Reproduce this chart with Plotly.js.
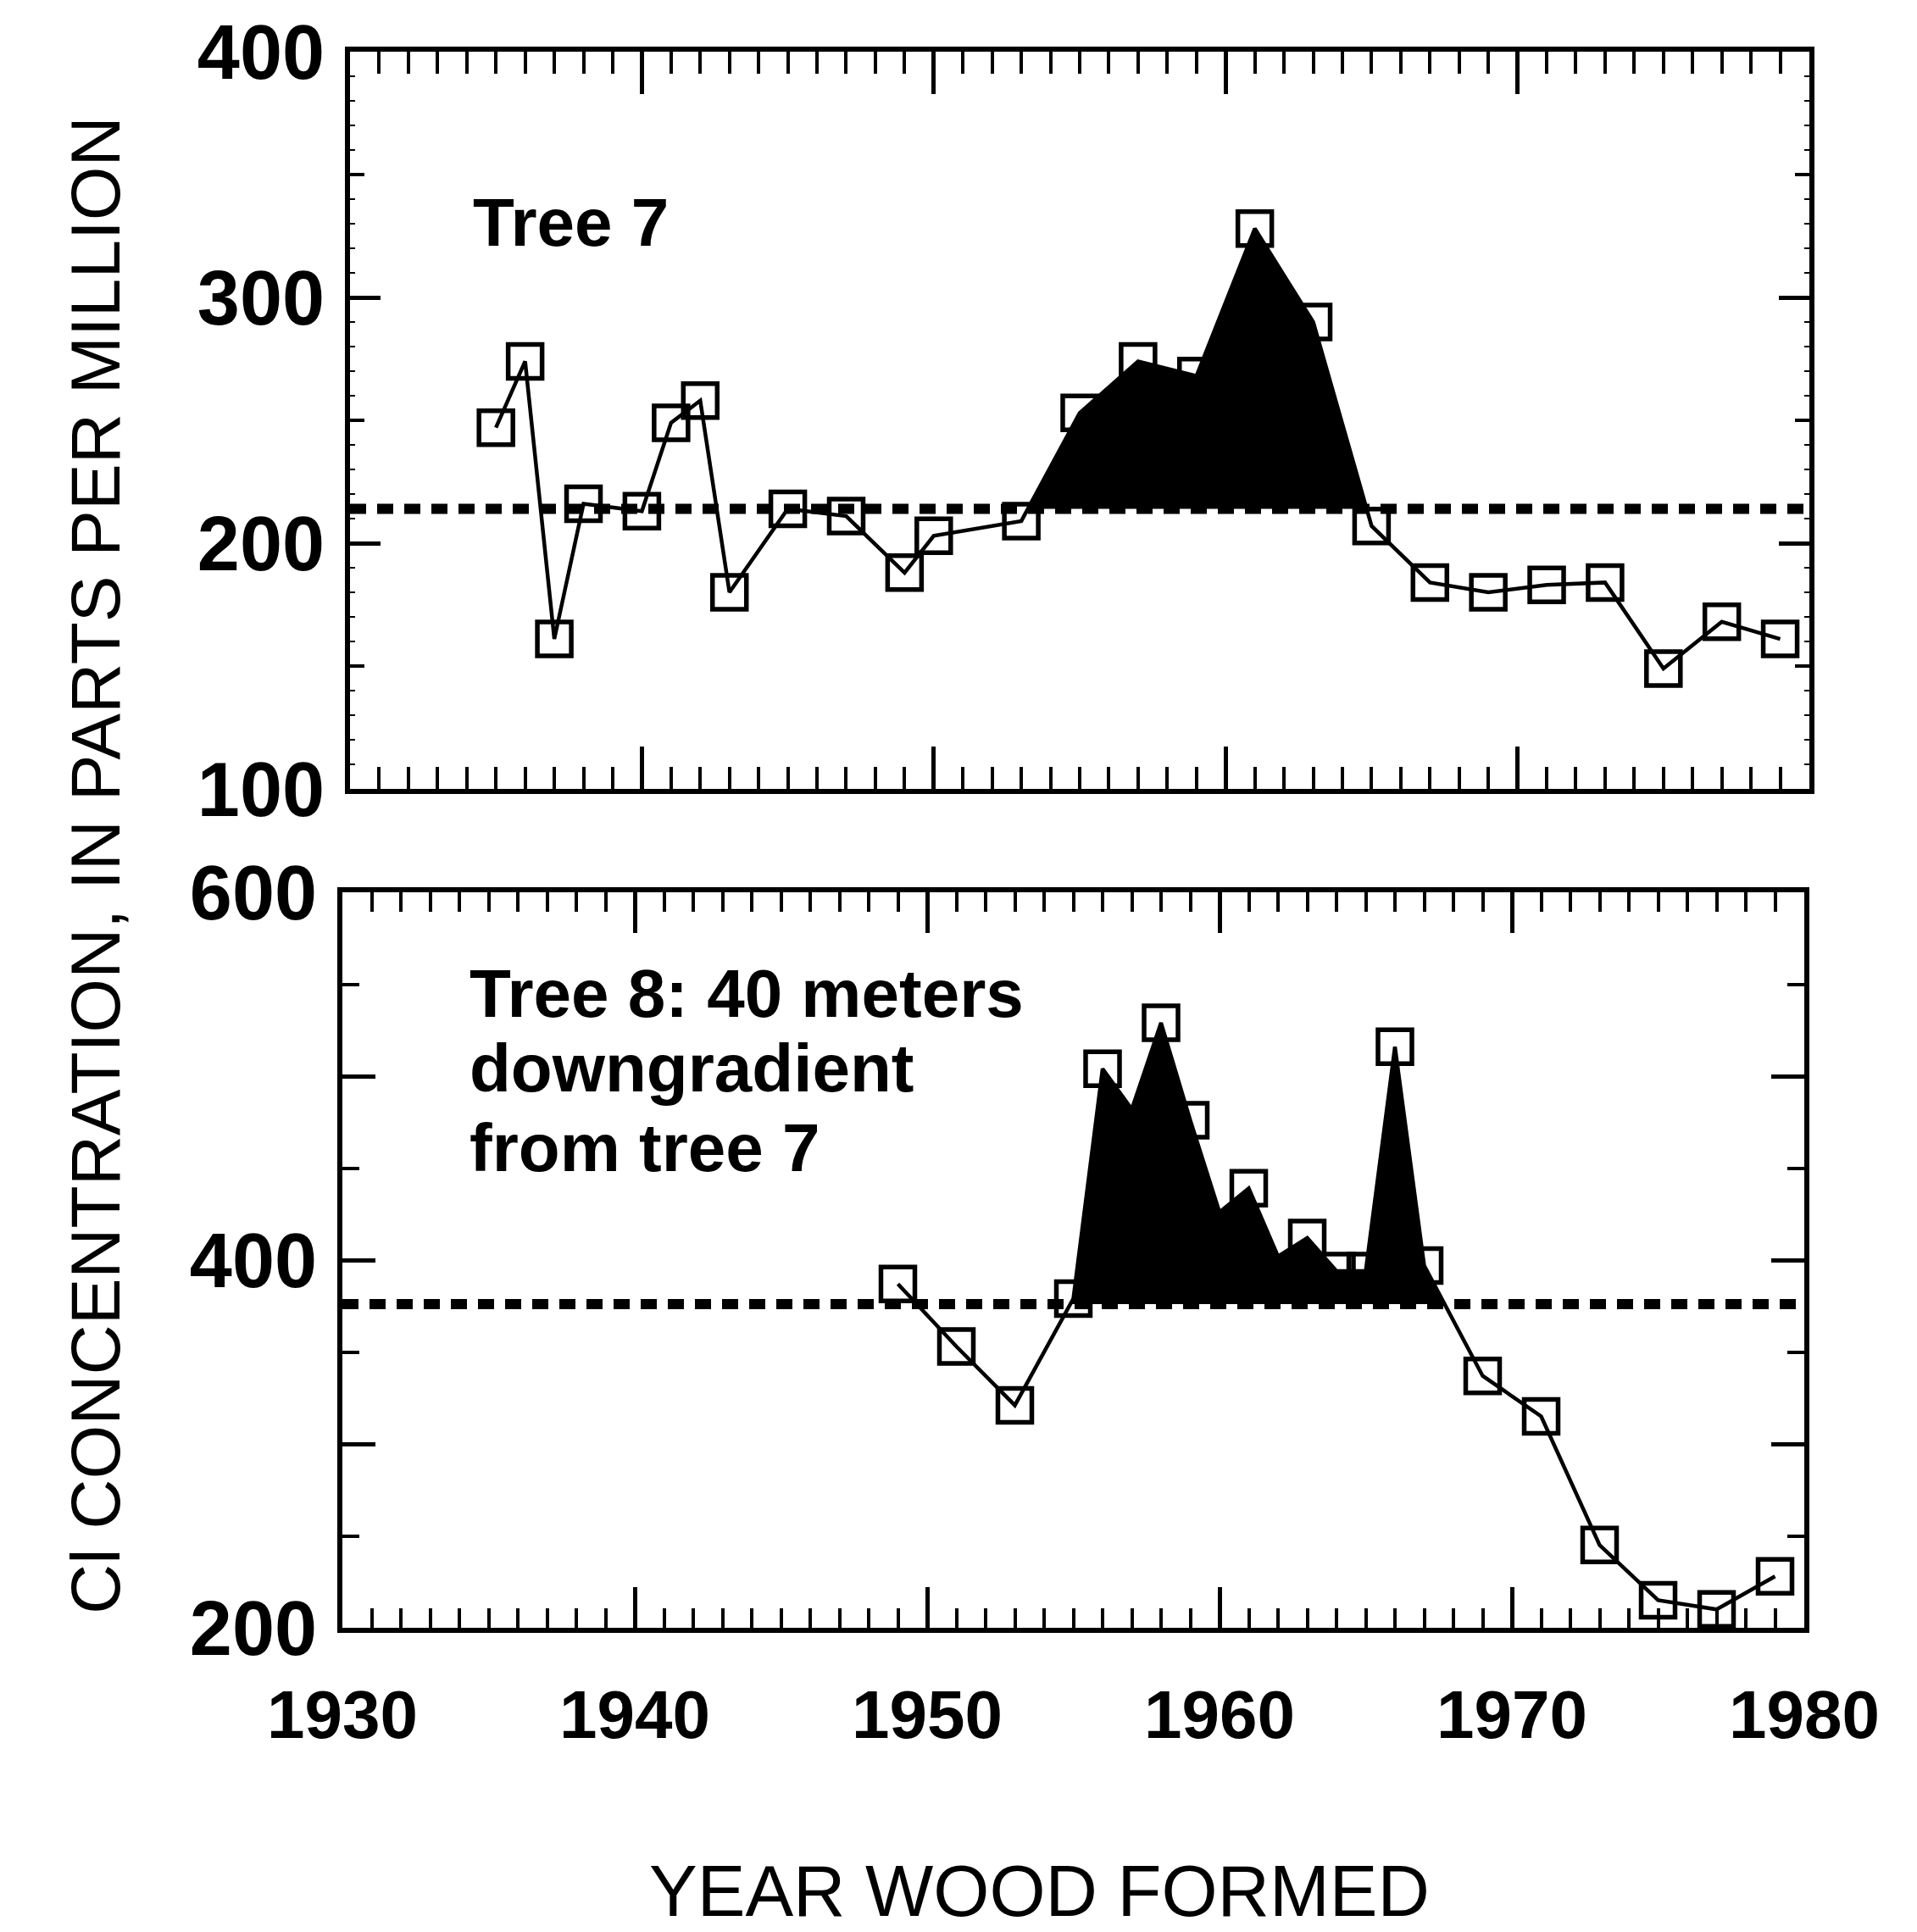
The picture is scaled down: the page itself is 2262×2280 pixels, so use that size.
<!DOCTYPE html>
<html>
<head>
<meta charset="utf-8">
<script src="https://cdn.plot.ly/plotly-3.0.1.min.js"></script>
<style>
  html, body { margin: 0; padding: 0; background: #ffffff; }
  #chart { width: 2262px; height: 2280px; }
</style>
</head>
<body>
<div id="chart"></div>
<script>
// ---------------- DATA ----------------
// Tree 7
const tree7Years  = [1935, 1936, 1937, 1938, 1940, 1941, 1942, 1943, 1945, 1947, 1949, 1950, 1953,
                     1955, 1957, 1959, 1961, 1963, 1965, 1967, 1969, 1971, 1973, 1975, 1977, 1979];
const tree7Values = [247, 274, 161, 216, 213, 249, 258, 180, 214, 211, 188, 203, 209,
                     253, 274, 268, 328, 290, 207, 184, 180, 183, 184, 149, 168, 161];
const tree7Mean = 214;
const tree7FillFrom = 1953;   // last point below mean before the shaded run
const tree7FillTo   = 1965;   // first point below mean after the shaded run

// Tree 8 (some vertices inside the shaded area carry no visible marker)
const tree8Years  = [1949, 1951, 1953, 1955, 1956, 1957, 1958, 1959, 1960, 1961, 1962, 1963, 1964,
                     1965, 1966, 1967, 1969, 1971, 1973, 1975, 1977, 1979];
const tree8Values = [387, 353, 321, 379, 504, 482, 529, 476, 426, 439, 402, 412, 394,
                     394, 516, 397, 337, 315, 245, 215, 210, 228];
const tree8Marked = [1, 1, 1, 1, 1, 0, 1, 1, 0, 1, 0, 1, 1,
                     1, 1, 1, 1, 1, 1, 1, 1, 1];
const tree8Mean = 376;
const tree8FillFrom = 1953;
const tree8FillTo   = 1969;

const xRange = [1930, 1980];
const xTickVals = [1930, 1940, 1950, 1960, 1970, 1980];
const xTickText = ['1930', '1940', '1950', '1960', '1970', '1980'];
const y1Range = [100, 400];
const y1TickVals = [100, 200, 300, 400];
const y1TickText = ['100', '200', '300', '400'];
const y2Range = [200, 600];
const y2TickVals = [200, 300, 400, 500, 600];
const y2TickText = ['200', '', '400', '', '600'];

const yTitle = 'Cl CONCENTRATION, IN PARTS PER MILLION';
const xTitle = 'YEAR WOOD FORMED';
const tree7Label = 'Tree 7';
const tree8Label = ['Tree 8: 40 meters', 'downgradient', 'from tree 7'];

// ---------------- HELPERS ----------------
function shadedPolygon(years, vals, mean, fromYear, toYear) {
  const i0 = years.indexOf(fromYear), i1 = years.indexOf(toYear);
  const cross = (a, b) => years[a] + (mean - vals[a]) * (years[b] - years[a]) / (vals[b] - vals[a]);
  const xs = [cross(i0, i0 + 1)], ys = [mean];
  for (let i = i0 + 1; i < i1; i++) { xs.push(years[i]); ys.push(vals[i]); }
  xs.push(cross(i1 - 1, i1)); ys.push(mean);
  xs.push(xs[0]); ys.push(mean);
  return { x: xs, y: ys };
}

const W = 2262, H = 2280;
const FONT = '"Liberation Sans", Arial, Helvetica, sans-serif';
const BLACK = '#000000';

const f7 = shadedPolygon(tree7Years, tree7Values, tree7Mean, tree7FillFrom, tree7FillTo);
const f8 = shadedPolygon(tree8Years, tree8Values, tree8Mean, tree8FillFrom, tree8FillTo);

const dashStyle = { color: BLACK, width: 12, dash: '19px,13px' };
const markerStyle = { symbol: 'square-open', size: 40, color: BLACK, line: { color: BLACK, width: 5.5 } };
const seriesLine = { color: BLACK, width: 4.5 };

const traces = [
  // Tree 7
  { x: xRange, y: [tree7Mean, tree7Mean], xaxis: 'x', yaxis: 'y', mode: 'lines',
    line: dashStyle, hoverinfo: 'skip', showlegend: false },
  { x: f7.x, y: f7.y, xaxis: 'x', yaxis: 'y', mode: 'lines', fill: 'toself',
    fillcolor: BLACK, line: { width: 0, color: BLACK }, hoverinfo: 'skip', showlegend: false },
  { x: tree7Years, y: tree7Values, xaxis: 'x', yaxis: 'y', mode: 'lines+markers',
    line: seriesLine, marker: markerStyle, showlegend: false },
  // Tree 8
  { x: xRange, y: [tree8Mean, tree8Mean], xaxis: 'x2', yaxis: 'y2', mode: 'lines',
    line: dashStyle, hoverinfo: 'skip', showlegend: false },
  { x: f8.x, y: f8.y, xaxis: 'x2', yaxis: 'y2', mode: 'lines', fill: 'toself',
    fillcolor: BLACK, line: { width: 0, color: BLACK }, hoverinfo: 'skip', showlegend: false },
  { x: tree8Years, y: tree8Values, xaxis: 'x2', yaxis: 'y2', mode: 'lines',
    line: seriesLine, showlegend: false },
  { x: tree8Years.filter((_, i) => tree8Marked[i]), y: tree8Values.filter((_, i) => tree8Marked[i]),
    xaxis: 'x2', yaxis: 'y2', mode: 'markers', marker: markerStyle, showlegend: false },
  // carrier for the fine 10-unit tick axis
  { x: [], y: [], xaxis: 'x', yaxis: 'y3', mode: 'markers', showlegend: false, hoverinfo: 'skip' },
];

const tickFontY = { family: FONT, size: 90, color: BLACK, weight: 'bold' };
const tickFontX = { family: FONT, size: 80, color: BLACK, weight: 'bold' };

function xAxis(domain, anchor, showLabels, majorLen, minorLen) {
  return {
    domain: domain, anchor: anchor, range: xRange, type: 'linear',
    tickmode: 'array', tickvals: xTickVals, ticktext: xTickText,
    ticks: 'inside', ticklen: majorLen, tickwidth: 5, tickcolor: BLACK,
    showticklabels: showLabels, tickfont: tickFontX, ticklabelstandoff: 28,
    minor: { dtick: 1, tick0: 1930, ticks: 'inside', ticklen: minorLen, tickwidth: 4, tickcolor: BLACK, showgrid: false },
    showline: true, linewidth: 6, linecolor: BLACK, mirror: 'ticks',
    showgrid: false, zeroline: false, fixedrange: true
  };
}
function yAxis(domain, anchor, range, vals, text, majorLen, minorLen) {
  return {
    domain: domain, anchor: anchor, range: range, type: 'linear',
    tickmode: 'array', tickvals: vals, ticktext: text,
    ticks: 'inside', ticklen: majorLen, tickwidth: 5, tickcolor: BLACK,
    tickfont: tickFontY, ticklabelstandoff: 6,
    minor: { dtick: 50, tick0: 0, ticks: 'inside', ticklen: minorLen, tickwidth: 4, tickcolor: BLACK, showgrid: false },
    showline: true, linewidth: 6, linecolor: BLACK, mirror: 'ticks',
    showgrid: false, zeroline: false, fixedrange: true
  };
}

const topXDom = [413 / W, 2135 / W];
const topYDom = [1 - 931 / H, 1 - 61 / H];
const botXDom = [404 / W, 2129 / W];
const botYDom = [1 - 1921 / H, 1 - 1053 / H];

const layout = {
  width: W, height: H,
  margin: { l: 0, r: 0, t: 0, b: 0, pad: 0 },
  paper_bgcolor: '#ffffff', plot_bgcolor: 'rgba(0,0,0,0)',
  showlegend: false, hovermode: false,
  font: { family: FONT, color: BLACK },
  xaxis: xAxis(topXDom, 'y', false, 50, 26),
  yaxis: yAxis(topYDom, 'x', y1Range, y1TickVals, y1TickText, 36, 17),
  xaxis2: xAxis(botXDom, 'y2', true, 48, 23),
  yaxis2: yAxis(botYDom, 'x2', y2Range, y2TickVals, y2TickText, 39, 20),
  yaxis3: {
    overlaying: 'y', anchor: 'x', range: y1Range, domain: topYDom,
    dtick: 10, tick0: 0, ticks: 'inside', ticklen: 6, tickwidth: 2.5, tickcolor: BLACK,
    showticklabels: false, showline: false, mirror: 'ticks',
    showgrid: false, zeroline: false, fixedrange: true
  },
  annotations: [
    { text: yTitle, xref: 'paper', yref: 'paper', x: 112 / W, y: 1 - 1021 / H,
      xanchor: 'center', yanchor: 'middle', textangle: -90, showarrow: false,
      font: { family: FONT, size: 82, color: BLACK } },
    { text: xTitle, xref: 'paper', yref: 'paper', x: 1226 / W, y: 1 - 2231 / H,
      xanchor: 'center', yanchor: 'middle', showarrow: false,
      font: { family: FONT, size: 85, color: BLACK } },
    { text: tree7Label, xref: 'paper', yref: 'paper', x: 556 / W, y: 1 - 262 / H,
      xanchor: 'left', yanchor: 'middle', showarrow: false,
      font: { family: FONT, size: 80, color: BLACK, weight: 'bold' } },
    { text: tree8Label[0], xref: 'paper', yref: 'paper', x: 552 / W, y: 1 - 1172 / H,
      xanchor: 'left', yanchor: 'middle', showarrow: false,
      font: { family: FONT, size: 80, color: BLACK, weight: 'bold' } },
    { text: tree8Label[1], xref: 'paper', yref: 'paper', x: 552 / W, y: 1 - 1260 / H,
      xanchor: 'left', yanchor: 'middle', showarrow: false,
      font: { family: FONT, size: 80, color: BLACK, weight: 'bold' } },
    { text: tree8Label[2], xref: 'paper', yref: 'paper', x: 552 / W, y: 1 - 1354 / H,
      xanchor: 'left', yanchor: 'middle', showarrow: false,
      font: { family: FONT, size: 80, color: BLACK, weight: 'bold' } }
  ]
};

Plotly.newPlot('chart', traces, layout, { displayModeBar: false, staticPlot: true });
</script>
</body>
</html>
